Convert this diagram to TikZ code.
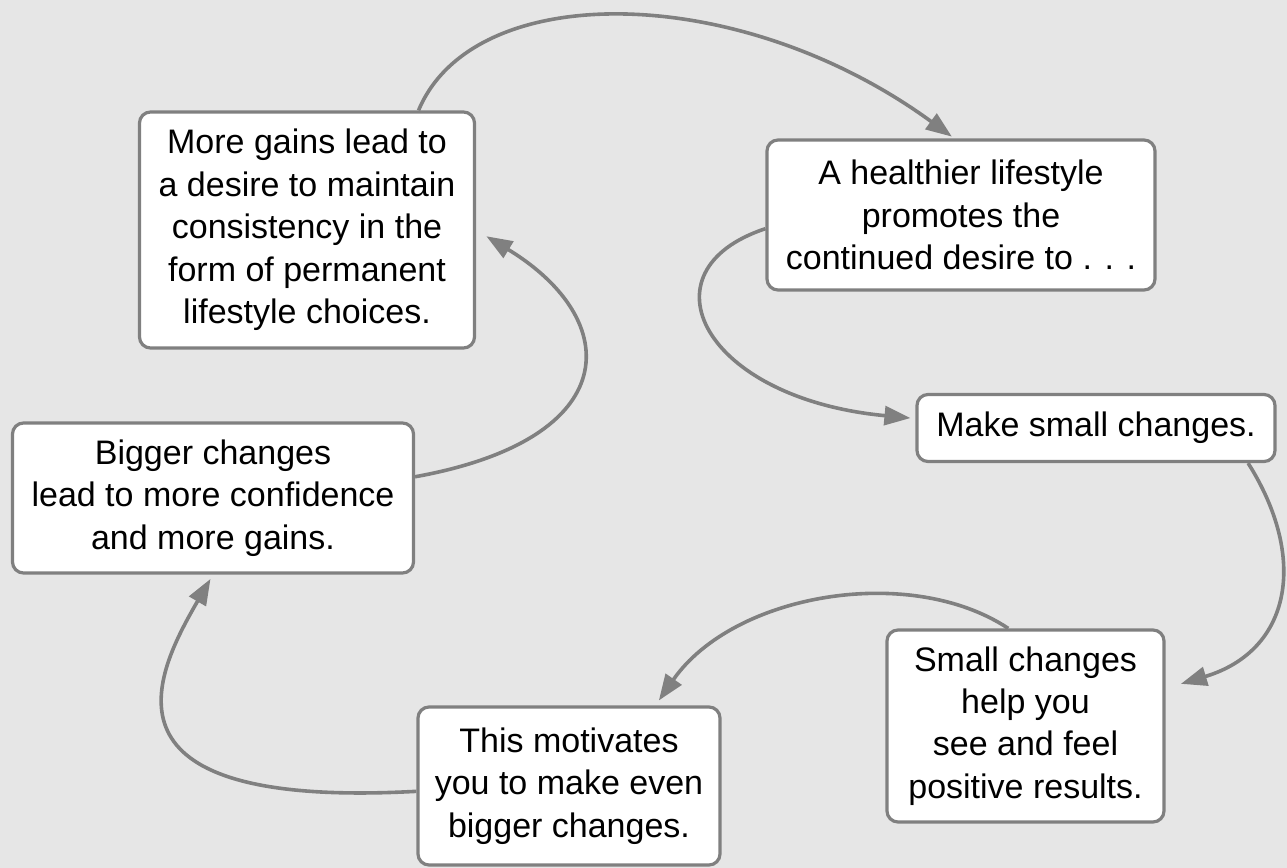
\documentclass[tikz,border=0pt]{standalone}
\usepackage{fontspec}
\setmainfont{Liberation Sans}
\usetikzlibrary{arrows.meta}

\definecolor{bggray}{RGB}{230,230,230}
\definecolor{linegray}{RGB}{128,128,128}

\begin{document}
\begin{tikzpicture}[
  x=0.5pt, y=-0.5pt,
  box/.style={draw=linegray, fill=white, line width=1.6pt, rounded corners=5.5pt, align=center,
    inner sep=0pt, font=\fontsize{17}{21.2}\selectfont},
  arr/.style={-{Triangle[length=13pt,width=9.5pt]}, draw=linegray, line width=1.8pt}
]
% page and background
\fill[bggray] (0,0) rectangle (1287,868);
\useasboundingbox (0,0) rectangle (1287,868);

\node[box, minimum width=167.5pt, minimum height=118pt] (gains) at (307,230)
  {More gains lead to\\a desire to maintain\\consistency in the\\form of permanent\\lifestyle choices.};
\node[box, minimum width=194pt, minimum height=75pt] (healthy) at (961,215)
  {A healthier lifestyle\\promotes the\\continued desire to . . .};
\node[box, minimum width=179pt, minimum height=33.5pt] (small) at (1096,428)
  {Make small changes.};
\node[box, minimum width=138.5pt, minimum height=96pt] (results) at (1025.5,726)
  {Small changes\\help you\\see and feel\\positive results.};
\node[box, minimum width=151pt, minimum height=79pt] (motivate) at (569,786)
  {This motivates\\you to make even\\bigger changes.};
\node[box, minimum width=200.5pt, minimum height=75pt] (bigger) at (213,498)
  {Bigger changes\\lead to more confidence\\and more gains.};

% the cycle
\draw[arr, shorten >=1.5pt] (gains.47.5) .. controls +(55,-132) and +(-215,-157) .. (healthy.95);
\draw[arr, shorten >=2.5pt] (healthy.184) .. controls +(-127,42) and +(-212,-20) .. (small.177);
\draw[arr, shorten >=8pt] (small.347) .. controls +(60,95) and +(126,-38) .. (results.15.5);
\draw[arr, shorten >=3pt] (results.100) .. controls +(-98,-65) and +(78,-112) .. (motivate.43);
\draw[arr, shorten >=2.5pt] (motivate.182) .. controls +(-330,18) and +(-58,100) .. (bigger.south);
\draw[arr, shorten >=6pt] (bigger.6) .. controls +(210,-38) and +(148,90) .. (gains.east);
\end{tikzpicture}
\end{document}
